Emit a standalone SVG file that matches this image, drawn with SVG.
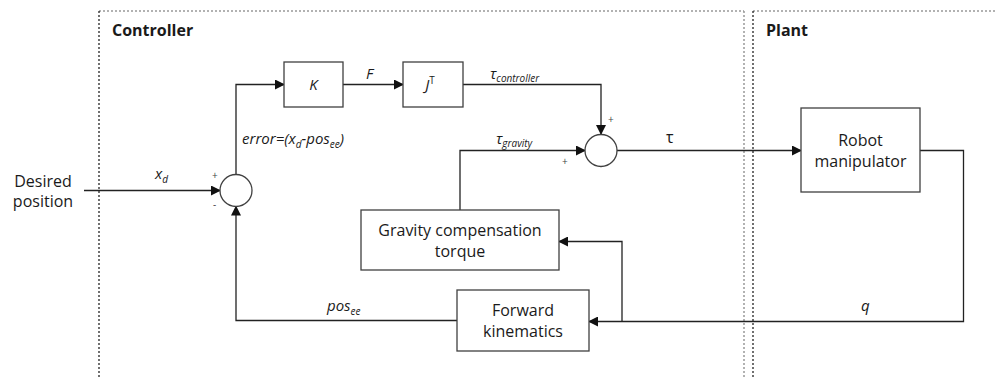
<svg xmlns="http://www.w3.org/2000/svg" width="995" height="378" viewBox="0 0 995 378">
<style>
text{font-family:"Open Sans","Noto Sans","Liberation Sans",sans-serif;fill:#1a1a1a}
.t{font-size:16px}
.i{font-size:15px;font-style:italic}
.s{font-size:10px;font-style:italic}
.h{font-size:16px;font-weight:bold}
.pm{font-size:10px;fill:#444}
.box{fill:#fff;stroke:#404040;stroke-width:1.3}
.ln{fill:none;stroke:#222;stroke-width:1.3}
.dk{fill:none;stroke:#111;stroke-width:1.2;stroke-dasharray:2 2}
.dg{fill:none;stroke:#999;stroke-width:1.5;stroke-dasharray:2 2}
</style>
<defs>
<marker id="a" markerWidth="10" markerHeight="10" refX="9" refY="5" orient="auto" markerUnits="userSpaceOnUse">
<path d="M0,0 L10,5 L0,10 z" fill="#111"/>
</marker>
</defs>
<g id="regions">
<line class="dg" x1="99" y1="11" x2="744" y2="11"/>
<line class="dg" x1="753" y1="11" x2="995" y2="11"/>
<line class="dk" x1="99" y1="11" x2="99" y2="378"/>
<line class="dg" x1="744" y1="11" x2="744" y2="378"/>
<line class="dk" x1="753" y1="11" x2="753" y2="378"/>
<text class="h" x="112" y="36">Controller</text>
<text class="h" x="766" y="36">Plant</text>
</g>
<g id="connectors">
<line class="ln" x1="84" y1="190.5" x2="220" y2="190.5" marker-end="url(#a)"/>
<polyline class="ln" points="236,174.5 236,84.5 284,84.5" marker-end="url(#a)"/>
<line class="ln" x1="343" y1="84.5" x2="403" y2="84.5" marker-end="url(#a)"/>
<polyline class="ln" points="463,84.5 601,84.5 601,134" marker-end="url(#a)"/>
<polyline class="ln" points="460,210 460,150.5 585,150.5" marker-end="url(#a)"/>
<line class="ln" x1="617" y1="150.5" x2="801" y2="150.5" marker-end="url(#a)"/>
<polyline class="ln" points="920,150.5 963.5,150.5 963.5,321.5 589,321.5" marker-end="url(#a)"/>
<polyline class="ln" points="622,321.5 622,241.5 559,241.5" marker-end="url(#a)"/>
<polyline class="ln" points="457,320.5 236,320.5 236,206.5" marker-end="url(#a)"/>
</g>
<g id="labels">
<text class="t" x="43" y="187" text-anchor="middle">Desired</text>
<text class="t" x="43" y="207" text-anchor="middle">position</text>
<text class="i" x="155" y="179">x<tspan class="s" dy="4">d</tspan></text>
<text class="pm" x="212" y="179">+</text>
<text class="pm" x="213" y="208">-</text>
<text class="i" x="242" y="144">error=(x<tspan class="s" dy="4">d</tspan><tspan dy="-4">-pos</tspan><tspan class="s" dy="4">ee</tspan><tspan dy="-4">)</tspan></text>
<text class="i" x="366" y="79">F</text>
<text class="i" x="490" y="79">τ<tspan class="s" dy="3">controller</tspan></text>
<text class="pm" x="608" y="123">+</text>
<text class="i" x="496" y="144">τ<tspan class="s" dy="3">gravity</tspan></text>
<text class="pm" x="562" y="165">+</text>
<text class="t" x="666" y="143">τ</text>
<text class="i" x="327" y="311">pos<tspan class="s" dy="4">ee</tspan></text>
<text class="i" x="861" y="311">q</text>
</g>
<g id="sum1"><circle class="box" cx="236" cy="190.5" r="16"/></g>
<g id="sum2"><circle class="box" cx="601" cy="150.5" r="16"/></g>
<g id="K"><rect class="box" x="284" y="62" width="59" height="45"/><text class="i" x="313.5" y="90" text-anchor="middle">K</text></g>
<g id="JT"><rect class="box" x="403" y="62" width="60" height="45"/><text class="i" x="430" y="90" text-anchor="middle">J<tspan font-size="10" font-style="normal" dy="-6">T</tspan></text></g>
<g id="gravity"><rect class="box" x="361" y="210" width="198" height="60"/><text class="t" x="460" y="236" text-anchor="middle">Gravity compensation</text><text class="t" x="460" y="257" text-anchor="middle">torque</text></g>
<g id="fk"><rect class="box" x="457" y="290" width="132" height="61"/><text class="t" x="523" y="316" text-anchor="middle">Forward</text><text class="t" x="523" y="337" text-anchor="middle">kinematics</text></g>
<g id="robot"><rect class="box" x="801" y="108" width="119" height="84"/><text class="t" x="860.5" y="146" text-anchor="middle">Robot</text><text class="t" x="860.5" y="167" text-anchor="middle">manipulator</text></g>
</svg>
